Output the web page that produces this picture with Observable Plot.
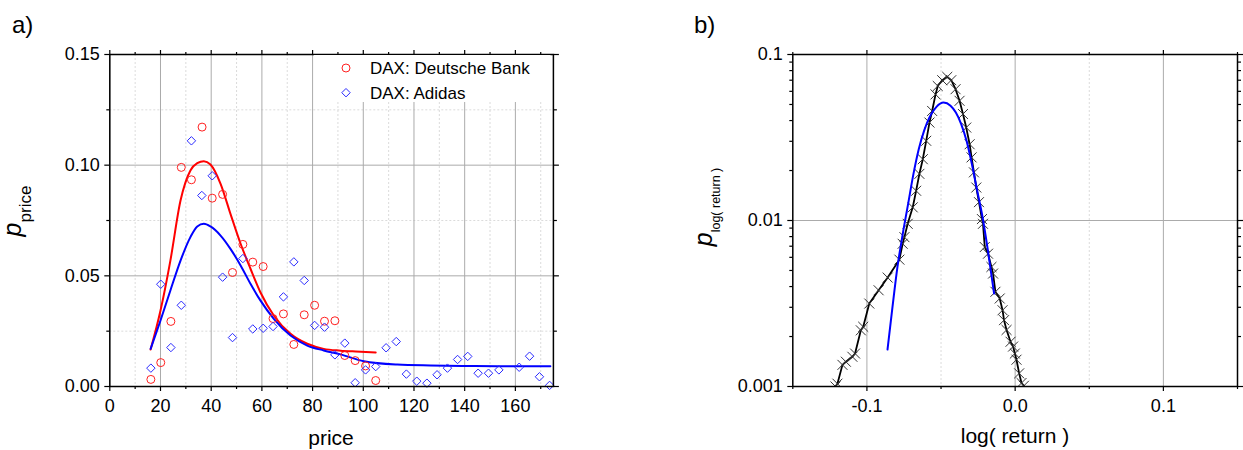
<!DOCTYPE html>
<html><head><meta charset="utf-8">
<script src="https://cdn.jsdelivr.net/npm/d3@7"></script>
<script src="https://cdn.jsdelivr.net/npm/@observablehq/plot@0.6"></script>
<style>
html,body{margin:0;padding:0;background:#fff;}
#wrap{position:relative;width:1243px;height:450px;overflow:hidden;font-family:"Liberation Sans",Arial,sans-serif;}
#wrap svg{position:absolute;top:0;}
</style></head><body><div id="wrap"></div>
<script>
// ---------- Panel a) data ----------
const dbPrice = [16.2,20.1,24.1,28.2,32.2,36.4,40.4,44.5,48.4,52.5,56.4,60.5,64.4,68.5,72.6,76.7,80.8,84.7,88.8,92.7,96.8,100.9,104.9];
const dbProb  = [0.0032,0.0108,0.0294,0.099,0.0934,0.1172,0.0851,0.0868,0.0515,0.0642,0.0562,0.0542,0.0307,0.0328,0.019,0.0324,0.0367,0.0295,0.0297,0.014,0.0117,0.0093,0.0027];
const adsPrice = [16.2,20.1,24.1,28.2,32.2,36.3,40.4,44.5,48.4,52.5,56.4,60.5,64.4,68.5,72.6,76.7,80.8,84.7,88.8,92.7,96.8,100.9,104.9,109.0,113.0,117.0,121.1,125.1,129.1,133.2,137.2,141.2,145.3,149.4,153.5,161.5,165.6,169.5,173.5];
const adsProb  = [0.0083,0.0462,0.0176,0.0367,0.111,0.0863,0.0952,0.0494,0.0221,0.0578,0.026,0.0263,0.0271,0.0405,0.0563,0.0479,0.0276,0.0268,0.0143,0.0196,0.0017,0.0075,0.009,0.0175,0.0203,0.0056,0.0024,0.0015,0.0053,0.0083,0.0122,0.0136,0.006,0.006,0.0075,0.0087,0.0137,0.0044,0.0005];
const dbFitX = [16.1,20,23.9,27.9,31.8,34.5,37.1,39.7,43.7,47.6,51.6,55.5,59.4,64.7,71.3,77.9,84.4,91,97,104.9];
const dbFitY = [0.0167,0.0343,0.0569,0.084,0.0976,0.1009,0.1018,0.1003,0.0916,0.078,0.0645,0.0532,0.0426,0.0321,0.0238,0.0193,0.017,0.0162,0.0158,0.0154];
const adsFitX = [16.1,20,23.9,27.9,31.8,34.5,37.1,39.7,43.7,47.6,51.6,55.5,59.4,64.7,71.3,77.9,84.4,91,100.2,113.4,126.5,139.6,152.8,166,173.8];
const adsFitY = [0.017,0.0298,0.0434,0.0569,0.0675,0.0723,0.0735,0.0723,0.0682,0.0622,0.0547,0.0464,0.0389,0.0306,0.023,0.0185,0.0163,0.0145,0.0114,0.0099,0.0095,0.0093,0.0092,0.0092,0.0092];
const aXMajor = [0,20,40,60,80,100,120,140,160];
const aXMinor = [10,30,50,70,90,110,130,150,170];
const aYMajor = [0,0.05,0.10,0.15];
const aYMinor = [0.025,0.075,0.125];
const seriesNames = ["DAX: Deutsche Bank","DAX: Adidas"];

// ---------- Panel b) data ----------
const retX = [-0.1212,-0.1199,-0.1165,-0.1142,-0.1098,-0.108,-0.1041,-0.1025,-0.0984,-0.0921,-0.086,-0.0781,-0.0759,-0.0747,-0.0725,-0.0691,-0.0668,-0.0646,-0.0623,-0.06,-0.0578,-0.056,-0.0537,-0.0522,-0.0492,-0.0458,-0.0431,-0.0402,-0.0375,-0.0352,-0.033,-0.0307,-0.0294,-0.0278,-0.0262,-0.0244,-0.0224,-0.0217,-0.0205,-0.0183,-0.016,-0.0149,-0.0133,-0.0104,-0.0085,-0.0075,-0.0058,-0.0031,-0.0014,-0.0002,0.0009,0.0027,0.0043,0.0059];
const retP = [0.00100,0.00104,0.00135,0.00141,0.00151,0.00158,0.00218,0.00229,0.00316,0.00380,0.00453,0.00581,0.00724,0.00794,0.00955,0.0120,0.0151,0.0191,0.0234,0.0302,0.0389,0.0457,0.0575,0.0646,0.0700,0.0733,0.0700,0.0618,0.0526,0.0438,0.0363,0.0288,0.0240,0.0195,0.0158,0.0129,0.0102,0.00955,0.00692,0.00631,0.00525,0.00479,0.00372,0.00339,0.00288,0.00251,0.00219,0.00186,0.00174,0.00158,0.00145,0.00120,0.00105,0.00101];
const fitRetX = [-0.0861,-0.083,-0.0794,-0.0758,-0.0722,-0.0686,-0.065,-0.0614,-0.0579,-0.0531,-0.0483,-0.0436,-0.04,-0.0364,-0.0328,-0.0292,-0.0256,-0.022,-0.0184,-0.0142];
const fitRetP = [0.00167,0.00288,0.00525,0.00832,0.0126,0.0191,0.027,0.0348,0.0417,0.0484,0.0513,0.0491,0.0447,0.0381,0.0302,0.0219,0.0151,0.0105,0.0066,0.00363];
const bXMajor = [-0.1,0,0.1];
const bXMinor = [-0.15,-0.05,0.05,0.15];
const bYMajor = [0.001,0.01,0.1];
const bYMinor = [0.002,0.003,0.004,0.005,0.006,0.007,0.008,0.009,0.02,0.03,0.04,0.05,0.06,0.07,0.08,0.09];

// ---------- build tables ----------
const zip = (xs, ys) => xs.map((x, i) => ({x, y: ys[i]}));
const db = zip(dbPrice, dbProb), ads = zip(adsPrice, adsProb);
const dbFit = zip(dbFitX, dbFitY), adsFit = zip(adsFitX, adsFitY);
const ret = zip(retX, retP), retFit = zip(fitRetX, fitRetP);

const font = '"Liberation Sans", Arial, sans-serif';
const FS = 18;
const gMaj = {stroke:"#ababab", strokeOpacity:1, strokeWidth:1};
const gMin = {stroke:"#d2d2d2", strokeOpacity:1, strokeWidth:0.8, strokeDasharray:"2,2"};
const blank = () => "";
const ax = (t, o) => Plot.axisX(t, {label:null, fontSize:FS, ...o});
const ay = (t, o) => Plot.axisY(t, {label:null, fontSize:FS, ...o});

const left = Plot.plot({
  width:620, height:450, marginLeft:109.3, marginRight:67.1, marginTop:54, marginBottom:64,
  style:{fontFamily:font, fontSize:FS+"px", background:"transparent", overflow:"visible", color:"#000"},
  x:{domain:[0,175]}, y:{domain:[0,0.15]},
  marks:[
    Plot.gridX(aXMinor, gMin), Plot.gridY(aYMinor, gMin),
    Plot.gridX(aXMajor, gMaj), Plot.gridY(aYMajor, gMaj),
    Plot.line(dbFit, {x:"x", y:"y", stroke:"#ff0000", strokeWidth:2, curve:"monotone-x"}),
    Plot.line(adsFit, {x:"x", y:"y", stroke:"#0000ff", strokeWidth:2, curve:"monotone-x"}),
    Plot.dot(db, {x:"x", y:"y", r:4, stroke:"#ff2020", strokeWidth:1, fill:"none"}),
    Plot.dot(ads, {x:"x", y:"y", r:3.8, symbol:"diamond2", stroke:"#2a2aff", strokeWidth:1, fill:"none"}),
    Plot.frame({stroke:"#000", strokeWidth:1.5}),
    ax(aXMajor, {anchor:"bottom", tickSize:5, tickPadding:8, tickFormat:d=>String(d), strokeWidth:1.2}),
    ax(aXMinor, {anchor:"bottom", tickSize:3, tickFormat:blank, strokeWidth:1.2}),
    ax(aXMajor, {anchor:"top", tickSize:5, tickFormat:blank, strokeWidth:1.2}),
    ax(aXMinor, {anchor:"top", tickSize:3, tickFormat:blank, strokeWidth:1.2}),
    ay(aYMajor, {anchor:"left", tickSize:5, tickPadding:5, tickFormat:d3.format(".2f"), strokeWidth:1.2}),
    ay(aYMinor, {anchor:"left", tickSize:3, tickFormat:blank, strokeWidth:1.2}),
    ay(aYMajor, {anchor:"right", tickSize:5, tickFormat:blank, strokeWidth:1.2}),
    ay(aYMinor, {anchor:"right", tickSize:3, tickFormat:blank, strokeWidth:1.2})
  ]
});
left.style.left = "0px";

const right = Plot.plot({
  width:623, height:450, marginLeft:172.3, marginRight:6, marginTop:54, marginBottom:64,
  style:{fontFamily:font, fontSize:FS+"px", background:"transparent", overflow:"visible", color:"#000"},
  x:{domain:[-0.15,0.15]}, y:{type:"log", domain:[0.001,0.1]},
  marks:[
    Plot.gridX([-0.05,0.05], gMin),
    Plot.gridX(bXMajor, gMaj), Plot.gridY([0.01], gMaj),
    Plot.line(ret, {x:"x", y:"y", stroke:"#000", strokeWidth:1.8, clip:true}),
    Plot.dot(ret, {x:"x", y:"y", symbol:"times", r:4.6, stroke:"#333", strokeWidth:1, clip:true}),
    Plot.line(retFit, {x:"x", y:"y", stroke:"#0000ff", strokeWidth:2, curve:"monotone-x"}),
    Plot.frame({stroke:"#000", strokeWidth:1.5}),
    ax(bXMajor, {anchor:"bottom", tickSize:5, tickPadding:8, tickFormat:d=>d.toFixed(1), strokeWidth:1.2}),
    ax(bXMinor, {anchor:"bottom", tickSize:3, tickFormat:blank, strokeWidth:1.2}),
    ax(bXMajor, {anchor:"top", tickSize:5, tickFormat:blank, strokeWidth:1.2}),
    ax(bXMinor, {anchor:"top", tickSize:3, tickFormat:blank, strokeWidth:1.2}),
    ay(bYMajor, {anchor:"left", tickSize:5, tickPadding:5, tickFormat:d=>String(d), strokeWidth:1.2}),
    ay(bYMinor, {anchor:"left", tickSize:3, tickFormat:blank, strokeWidth:1.2}),
    ay(bYMajor, {anchor:"right", tickSize:5, tickFormat:blank, strokeWidth:1.2}),
    ay(bYMinor, {anchor:"right", tickSize:3, tickFormat:blank, strokeWidth:1.2})
  ]
});
right.style.left = "620px";

const wrap = document.getElementById("wrap");
wrap.appendChild(left);
wrap.appendChild(right);

// ---------- overlay: titles, labels, legend ----------
const ov = d3.create("svg").attr("width",1243).attr("height",450)
  .style("left","0px").style("font-family",font).style("pointer-events","none");
const txt = (x, y, s, size, anchor="start") => ov.append("text").attr("x",x).attr("y",y)
  .attr("font-size",size).attr("text-anchor",anchor).attr("fill","#000").text(s);
txt(12, 33, "a)", 24);
txt(694, 33, "b)", 24);
txt(331, 445, "price", 21, "middle");
txt(1015, 443, "log( return )", 21, "middle");

const yl = (x, y, sub, subSize, dy) => {
  const t = ov.append("text").attr("transform",`translate(${x},${y}) rotate(-90)`)
    .attr("text-anchor","middle").attr("fill","#000");
  t.append("tspan").attr("font-style","italic").attr("font-size",25).text("p");
  t.append("tspan").attr("font-size",subSize).attr("dy",dy).text(sub);
};
yl(21, 211, "price", 17, 10);
yl(712, 207, "log( return )", 12.5, 8);

// legend box
ov.append("rect").attr("x",314).attr("y",55).attr("width",236.5).attr("height",47).attr("fill","#fff");
ov.append("circle").attr("cx",346).attr("cy",68).attr("r",4).attr("fill","none").attr("stroke","#ff2020");
ov.append("path").attr("transform","translate(346,92.7)")
  .attr("d", d3.symbol(d3.symbolDiamond2, Math.PI*3.8*3.8)()).attr("fill","none").attr("stroke","#2a2aff");
txt(370, 68, seriesNames[0], 17).attr("dy","0.35em");
txt(370, 92.7, seriesNames[1], 17).attr("dy","0.35em");

wrap.appendChild(ov.node());
</script></body></html>
